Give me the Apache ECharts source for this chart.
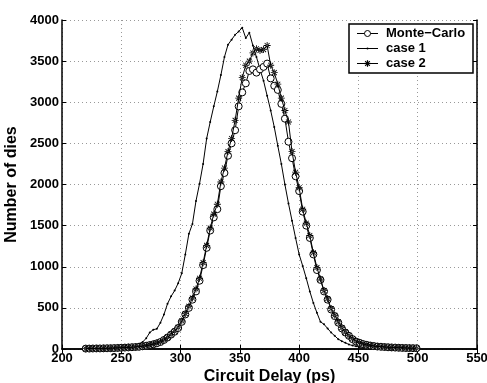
<!DOCTYPE html>
<html><head><meta charset="utf-8">
<script src="https://cdn.jsdelivr.net/npm/echarts@6/dist/echarts.min.js"></script>
<style>html,body{margin:0;padding:0;background:#fff}#c{width:487px;height:383px}</style>
</head><body><div id="c"></div>
<script>
const delays = [220,223,226,229,232,235,238,241,244,247,250,253,256,259,262,265,268,271,274,277,280,283,286,289,292,295,298,301,304,307,310,313,316,319,322,325,328,331,334,337,340,343,346,349,352,355,358,361,364,367,370,373,376,379,382,385,388,391,394,397,400,403,406,409,412,415,418,421,424,427,430,433,436,439,442,445,448,451,454,457,460,463,466,469,472,475,478,481,484,487,490,493,496,499];
const monteCarlo = [5,5,6,7,7,8,9,10,11,13,15,17,19,22,24,27,33,40,48,57,69,85,110,140,175,210,255,330,420,500,600,700,830,1020,1230,1440,1600,1700,1980,2140,2350,2500,2660,2950,3120,3230,3380,3400,3360,3400,3430,3470,3290,3200,3150,2980,2800,2520,2320,2100,1920,1670,1500,1350,1150,960,840,700,600,480,400,320,250,200,160,120,90,75,60,50,42,36,30,27,24,21,19,17,15,13,12,11,10,9];
const case1 = [3,4,5,6,8,10,12,14,17,21,26,32,38,45,55,65,85,130,200,235,245,320,420,550,640,710,800,920,1150,1400,1520,1800,2010,2250,2560,2760,2950,3130,3330,3550,3700,3760,3820,3860,3906,3780,3846,3690,3550,3400,3260,3080,2900,2700,2470,2250,2000,1770,1560,1350,1150,1010,860,700,560,440,330,300,250,200,160,120,95,75,55,42,32,24,20,15,11,9,7,5,4,3,2,2,2,1,1,1,1,1];
const case2 = [4,5,6,6,7,8,9,10,12,13,15,17,20,22,25,28,34,41,50,60,72,88,112,142,178,215,265,340,430,520,620,730,860,1050,1260,1470,1640,1760,2030,2200,2400,2560,2780,3050,3300,3450,3500,3600,3650,3630,3640,3690,3450,3360,3220,3050,2900,2760,2400,2150,1960,1700,1530,1380,1170,990,850,710,610,490,410,330,260,205,165,125,95,78,62,52,44,37,31,28,24,22,19,17,15,14,12,11,10,9];
const seriesNames = ['Monte\u2212Carlo','case 1','case 2'];
const xTicks = {min:200, max:550, interval:50};
const yTicks = {min:0, max:4000, interval:500};

const pair = ys => delays.map((x,i)=>[x, ys[i]]);
const star = 'path://M-0.6,-5L0.6,-5L0.6,5L-0.6,5Z M-5,-0.6L5,-0.6L5,0.6L-5,0.6Z M3.12,3.96L3.96,3.12L-3.12,-3.96L-3.96,-3.12Z M3.96,-3.12L3.12,-3.96L-3.96,3.12L-3.12,3.96Z';
const font = 'Liberation Sans';
const lbl = {color:'#000', fontFamily:font, fontWeight:'bold', fontSize:13};
const grid = {type:[1,3], color:'#999', width:1};

// legend drawn as graphic (box + samples + text)
const L = {x:349, y:24, w:124, h:49, rows:[33.5,48.5,63.5], lx0:357, lx1:378, tx:386};
const lg = [];
lg.push({type:'rect', z:100, shape:{x:L.x, y:L.y, width:L.w, height:L.h}, style:{fill:'#fff', stroke:'#000', lineWidth:1.5}});
L.rows.forEach((ry,i)=>{
  lg.push({type:'line', z:101, shape:{x1:L.lx0, y1:ry, x2:L.lx1, y2:ry}, style:{stroke:'#000', lineWidth:1}});
  lg.push({type:'text', z:101, x:L.tx, y:ry, style:{text:seriesNames[i], fill:'#000', font:'bold 13px "Liberation Sans"', textVerticalAlign:'middle', verticalAlign:'middle'}});
});
const cx = (L.lx0+L.lx1)/2;
lg.push({type:'circle', z:102, shape:{cx:cx, cy:L.rows[0], r:3}, style:{fill:'#fff', stroke:'#000', lineWidth:1}});
lg.push({type:'circle', z:102, shape:{cx:cx, cy:L.rows[1], r:1}, style:{fill:'#000'}});
[[0,3.3],[3.3,0],[2.3,2.3],[2.3,-2.3]].forEach(([dx,dy])=>{
  lg.push({type:'line', z:102, shape:{x1:cx-dx, y1:L.rows[2]-dy, x2:cx+dx, y2:L.rows[2]+dy}, style:{stroke:'#000', lineWidth:1.2}});
});

const chart = echarts.init(document.getElementById('c'), null, {renderer:'canvas'});
chart.setOption({
  animation:false,
  backgroundColor:'#fff',
  grid:{left:62, right:10, top:20, bottom:34, containLabel:false, outerBoundsMode:'none'},
  xAxis:[
    {type:'value', min:xTicks.min, max:xTicks.max, interval:xTicks.interval, position:'bottom',
     name:'Circuit Delay (ps)', nameLocation:'middle', nameGap:20, nameMoveOverlap:false,
     nameTextStyle:{color:'#000', fontFamily:font, fontWeight:'bold', fontSize:16},
     axisLine:{lineStyle:{color:'#000', width:1.5}},
     axisTick:{inside:true, length:4, lineStyle:{color:'#000'}},
     axisLabel:Object.assign({margin:3}, lbl),
     splitLine:{show:true, lineStyle:grid}},
    {type:'value', min:xTicks.min, max:xTicks.max, interval:xTicks.interval, position:'top',
     axisLine:{lineStyle:{color:'#000', width:1.5}},
     axisTick:{inside:true, length:4, lineStyle:{color:'#000'}},
     axisLabel:{show:false}, splitLine:{show:false}}
  ],
  yAxis:[
    {type:'value', min:yTicks.min, max:yTicks.max, interval:yTicks.interval, position:'left',
     name:'Number of dies', nameLocation:'middle', nameGap:50, nameMoveOverlap:false,
     nameTextStyle:{color:'#000', fontFamily:font, fontWeight:'bold', fontSize:16, verticalAlign:'middle', padding:[0,0,0,0]},
     axisLine:{show:true, lineStyle:{color:'#000', width:1.5}},
     axisTick:{show:true, inside:true, length:4, lineStyle:{color:'#000'}},
     axisLabel:Object.assign({margin:3, formatter:v=>String(v)}, lbl),
     splitLine:{show:true, lineStyle:grid}},
    {type:'value', min:yTicks.min, max:yTicks.max, interval:yTicks.interval, position:'right',
     axisLine:{show:true, lineStyle:{color:'#000', width:1.5}},
     axisTick:{show:true, inside:true, length:4, lineStyle:{color:'#000'}},
     axisLabel:{show:false}, splitLine:{show:false}}
  ],
  graphic:{elements:lg},
  series:[
    {name:seriesNames[0], type:'line', data:pair(monteCarlo), symbol:'circle', symbolSize:7, showSymbol:true,
     itemStyle:{color:'#fff', borderColor:'#000', borderWidth:1}, lineStyle:{color:'#000', width:1}, z:3},
    {name:seriesNames[1], type:'line', data:pair(case1), symbol:'circle', symbolSize:2, showSymbol:true,
     itemStyle:{color:'#000', borderColor:'#000', borderWidth:0}, lineStyle:{color:'#000', width:1}, z:2},
    {name:seriesNames[2], type:'line', data:pair(case2), symbol:star, symbolSize:7, symbolKeepAspect:true, showSymbol:true,
     itemStyle:{color:'#000', borderWidth:0}, lineStyle:{color:'#000', width:1}, z:4}
  ]
});
</script></body></html>
